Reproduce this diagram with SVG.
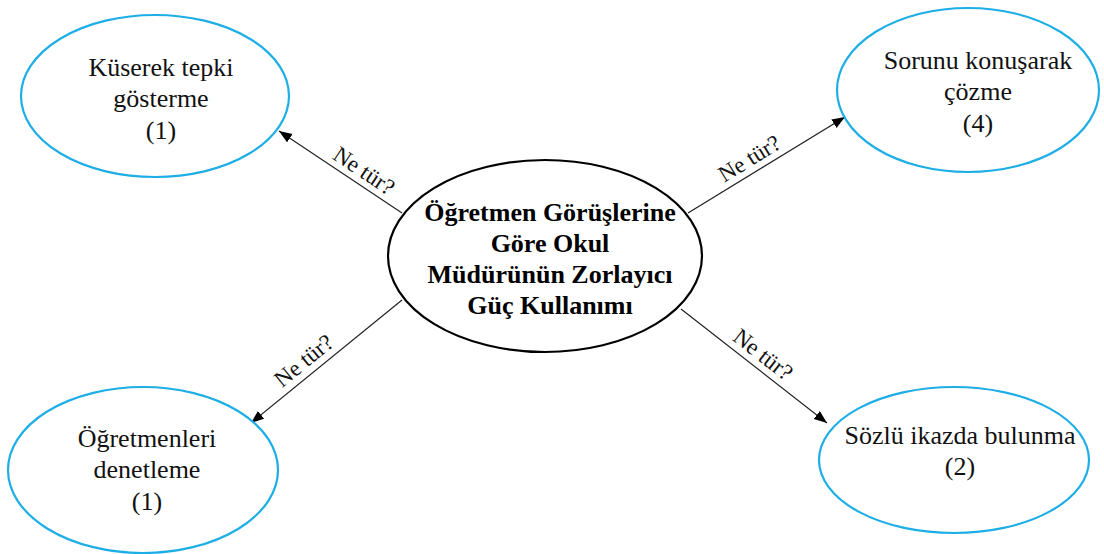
<svg xmlns="http://www.w3.org/2000/svg" width="1104" height="554" viewBox="0 0 1104 554">
  <style>
    .leaf { fill: #ffffff; stroke: #1eaee6; stroke-width: 2.2; }
    .hub { fill: #ffffff; stroke: #000000; stroke-width: 2.2; }
    .txt { font-family: "Liberation Serif", "Times New Roman", serif; font-size: 26px; fill: #111111; text-anchor: middle; }
    .hubtxt { font-family: "Liberation Serif", "Times New Roman", serif; font-size: 26px; font-weight: bold; fill: #000000; text-anchor: middle; }
    .lbl { font-family: "Liberation Serif", "Times New Roman", serif; font-size: 23px; fill: #111111; text-anchor: middle; }
    .edge { stroke: #222222; stroke-width: 1.2; fill: none; marker-end: url(#arrow); }
  </style>
  <defs>
    <marker id="arrow" markerUnits="userSpaceOnUse" markerWidth="14" markerHeight="12" refX="13" refY="5" orient="auto">
      <path d="M0,0 L13,5 L0,10 z" fill="#000000"/>
    </marker>
  </defs>
  <rect width="1104" height="554" fill="#ffffff"/>

  <!-- connectors from the central node -->
  <g id="connectors">
    <line class="edge" x1="402" y1="213" x2="279" y2="131"/>
    <line class="edge" x1="688" y1="213" x2="845" y2="117"/>
    <line class="edge" x1="402" y1="300" x2="251" y2="423"/>
    <line class="edge" x1="681" y1="309" x2="827" y2="423"/>
    <text class="lbl" transform="translate(356,183) rotate(33.7)" x="0" y="-7">Ne tür?</text>
    <text class="lbl" transform="translate(757,171) rotate(-31.4)" x="0" y="-7">Ne tür?</text>
    <text class="lbl" transform="translate(313,372) rotate(-39.2)" x="0" y="-7">Ne tür?</text>
    <text class="lbl" transform="translate(754,366) rotate(38)" x="0" y="-7">Ne tür?</text>
  </g>

  <g id="hub">
    <ellipse class="hub" cx="545" cy="256" rx="157" ry="96"/>
    <text class="hubtxt" x="550" y="221">Öğretmen Görüşlerine</text>
    <text class="hubtxt" x="550" y="252">Göre Okul</text>
    <text class="hubtxt" x="550" y="283">Müdürünün Zorlayıcı</text>
    <text class="hubtxt" x="550" y="314">Güç Kullanımı</text>
  </g>

  <g id="kuserek">
    <ellipse class="leaf" cx="155" cy="96" rx="134" ry="81"/>
    <text class="txt" x="161" y="76">Küserek tepki</text>
    <text class="txt" x="161" y="107">gösterme</text>
    <text class="txt" x="161" y="139">(1)</text>
  </g>

  <g id="sorunu">
    <ellipse class="leaf" cx="968" cy="90" rx="131" ry="82"/>
    <text class="txt" x="978" y="69">Sorunu konuşarak</text>
    <text class="txt" x="978" y="100">çözme</text>
    <text class="txt" x="978" y="132">(4)</text>
  </g>

  <g id="ogretmenleri">
    <ellipse class="leaf" cx="143" cy="470" rx="135" ry="83"/>
    <text class="txt" x="147" y="447">Öğretmenleri</text>
    <text class="txt" x="147" y="478">denetleme</text>
    <text class="txt" x="147" y="510">(1)</text>
  </g>

  <g id="sozlu">
    <ellipse class="leaf" cx="954" cy="460" rx="135" ry="73"/>
    <text class="txt" x="960" y="444">Sözlü ikazda bulunma</text>
    <text class="txt" x="960" y="475">(2)</text>
  </g>
</svg>
